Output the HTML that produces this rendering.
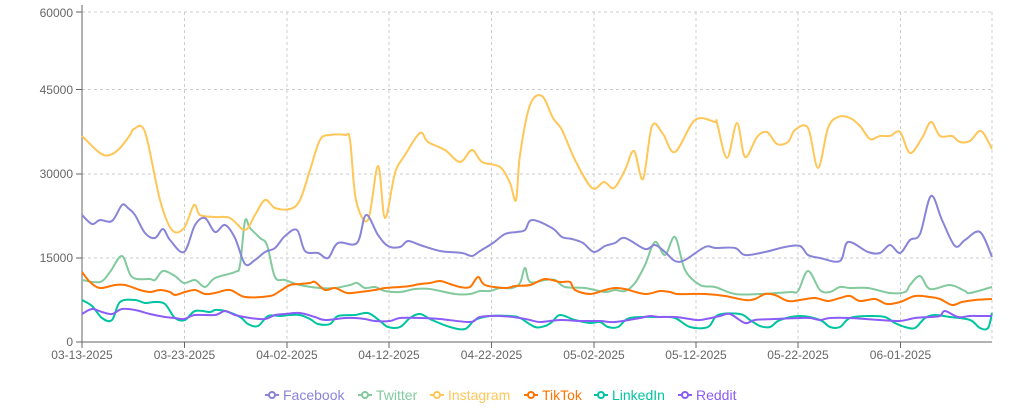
<!DOCTYPE html>
<html><head><meta charset="utf-8"><style>
body{margin:0;background:#fff;width:1024px;height:410px;overflow:hidden;font-family:"Liberation Sans",sans-serif}
</style></head><body>
<svg id="s" width="1024" height="410" xmlns="http://www.w3.org/2000/svg" font-family="Liberation Sans, sans-serif">
<g stroke="#ccc" stroke-dasharray="3 3" fill="none">
<line x1="82" y1="12" x2="992" y2="12"/><line x1="82" y1="89.5" x2="992" y2="89.5"/><line x1="82" y1="174" x2="992" y2="174"/><line x1="82" y1="258" x2="992" y2="258"/>
<line x1="184.5" y1="12" x2="184.5" y2="342"/><line x1="287" y1="12" x2="287" y2="342"/><line x1="389" y1="12" x2="389" y2="342"/><line x1="491.5" y1="12" x2="491.5" y2="342"/><line x1="594" y1="12" x2="594" y2="342"/><line x1="696" y1="12" x2="696" y2="342"/><line x1="798" y1="12" x2="798" y2="342"/><line x1="900.5" y1="12" x2="900.5" y2="342"/><line x1="992" y1="12" x2="992" y2="342"/>
</g>
<g stroke="#666" fill="none"><line x1="82" y1="5" x2="82" y2="342"/><line x1="82" y1="342" x2="992" y2="342"/>
<line x1="76" y1="12" x2="82" y2="12"/><line x1="76" y1="89.5" x2="82" y2="89.5"/><line x1="76" y1="174" x2="82" y2="174"/><line x1="76" y1="258" x2="82" y2="258"/><line x1="76" y1="342" x2="82" y2="342"/>
<line x1="82" y1="342" x2="82" y2="348"/><line x1="184.5" y1="342" x2="184.5" y2="348"/><line x1="287" y1="342" x2="287" y2="348"/><line x1="389" y1="342" x2="389" y2="348"/><line x1="491.5" y1="342" x2="491.5" y2="348"/><line x1="594" y1="342" x2="594" y2="348"/><line x1="696" y1="342" x2="696" y2="348"/><line x1="798" y1="342" x2="798" y2="348"/><line x1="900.5" y1="342" x2="900.5" y2="348"/></g>
<g fill="#666" font-size="12" text-anchor="end">
<text x="73" y="17">60000</text><text x="73" y="94">45000</text><text x="73" y="178">30000</text><text x="73" y="262">15000</text><text x="73" y="346">0</text></g>
<g fill="#666" font-size="12" text-anchor="middle">
<text x="82" y="359">03-13-2025</text><text x="184.5" y="359">03-23-2025</text><text x="287" y="359">04-02-2025</text><text x="389" y="359">04-12-2025</text><text x="491.5" y="359">04-22-2025</text><text x="594" y="359">05-02-2025</text><text x="696" y="359">05-12-2025</text><text x="798" y="359">05-22-2025</text><text x="900.5" y="359">06-01-2025</text></g>
<g id="lines" fill="none" stroke-width="2"></g>
<g font-size="14">
<g stroke-width="2" fill="#fff"><line x1="265" y1="395" x2="279" y2="395" stroke="#8884d8"/><circle cx="272" cy="395" r="3" stroke="#8884d8"/></g><text x="283" y="400" fill="#8884d8">Facebook</text>
<g stroke-width="2" fill="#fff"><line x1="358" y1="395" x2="372" y2="395" stroke="#82ca9d"/><circle cx="365" cy="395" r="3" stroke="#82ca9d"/></g><text x="376" y="400" fill="#82ca9d">Twitter</text>
<g stroke-width="2" fill="#fff"><line x1="430" y1="395" x2="444" y2="395" stroke="#ffc658"/><circle cx="437" cy="395" r="3" stroke="#ffc658"/></g><text x="448" y="400" fill="#ffc658">Instagram</text>
<g stroke-width="2" fill="#fff"><line x1="524" y1="395" x2="538" y2="395" stroke="#ff7300"/><circle cx="531" cy="395" r="3" stroke="#ff7300"/></g><text x="542" y="400" fill="#ff7300">TikTok</text>
<g stroke-width="2" fill="#fff"><line x1="594" y1="395" x2="608" y2="395" stroke="#00c49f"/><circle cx="601" cy="395" r="3" stroke="#00c49f"/></g><text x="612" y="400" fill="#00c49f">LinkedIn</text>
<g stroke-width="2" fill="#fff"><line x1="678" y1="395" x2="692" y2="395" stroke="#8b5cf6"/><circle cx="685" cy="395" r="3" stroke="#8b5cf6"/></g><text x="696" y="400" fill="#8b5cf6">Reddit</text>
</g>
</svg>
<script>
var D={
"#82ca9d":[82,280,100,282,110,272,122,256,132,277,150,279,155,280,163,271,175,276,184,283,195,280,205,287,215,278,235,272,240,265,245,221,250,228,260,238,267,245,275,277,285,280,300,285,320,288,335,288,350,285,357,283,365,288,375,287,385,291,400,292,415,289,430,289,455,294,470,294,480,291,490,291,500,288,512,288,520,283,525,268,530,282,545,280,555,280,565,287,585,288,605,292,615,290,625,291,635,283,645,265,655,242,665,255,675,237,685,270,700,285,715,287,735,294,760,294,790,292,798,291,808,271,820,290,830,292,840,287,850,288,868,288,890,293,905,292,910,285,920,276,930,289,950,285,965,291,970,293,992,287],
"#ffc658":[82,136,100,153,110,155,120,148,130,135,134,129,145,132,160,200,172,230,184,228,194,205,200,215,215,217,230,218,245,230,255,215,265,200,275,208,290,209,300,200,310,170,320,140,330,135,345,135,350,140,356,200,368,220,378,166,385,218,395,173,405,155,420,133,428,142,445,150,460,162,472,150,482,162,500,167,510,183,516,200,520,155,530,105,542,96,553,118,562,130,575,160,592,188,604,182,614,188,625,170,634,151,643,179,652,126,663,134,675,152,695,120,715,122,717,123,727,158,737,123,745,157,757,137,767,132,777,144,788,142,795,130,808,128,818,168,828,128,838,117,850,118,860,126,870,139,880,136,890,136,900,132,910,153,922,138,931,122,940,136,952,136,960,142,970,141,981,131,992,149],
"#8884d8":[82,215,92,224,100,220,112,221,122,205,128,208,135,215,145,233,155,238,163,229,170,240,184,252,195,225,205,218,215,232,225,225,235,238,245,264,255,260,265,252,275,248,285,236,297,230,305,251,318,253,328,258,338,243,357,243,366,215,378,235,388,246,400,247,408,241,420,245,440,251,462,253,472,256,480,251,493,243,505,234,517,232,525,230,532,220,552,228,562,237,572,239,583,243,594,252,605,246,615,243,625,238,645,249,655,245,665,252,675,261,685,260,705,247,716,248,735,248,745,255,765,252,785,247,800,246,808,255,820,258,840,261,848,242,868,252,880,253,890,245,900,253,910,240,920,234,931,196,942,220,955,246,965,240,980,232,992,257],
"#ff7300":[82,272,90,282,100,288,115,285,125,285,140,290,150,292,160,290,170,292,175,295,185,292,195,290,205,294,215,293,230,290,245,297,270,296,280,291,290,285,300,284,310,283,315,282,325,290,335,288,347,293,360,292,375,290,385,288,400,287,410,286,420,284,430,283,440,281,450,284,460,287,470,287,478,277,485,285,505,288,515,286,530,285,545,279,560,282,570,282,575,290,590,294,605,290,615,288,625,289,645,294,660,291,670,292,677,294,690,294,705,294,725,296,745,300,755,299,765,294,775,295,788,301,800,300,815,298,828,301,840,298,850,296,860,301,875,299,887,304,900,302,915,296,930,297,940,299,952,305,962,302,975,300,992,299],
"#00c49f":[82,300,92,306,102,318,112,320,120,302,135,300,145,303,155,302,165,304,175,318,185,320,195,311,210,312,215,310,225,311,240,317,248,324,258,326,268,316,280,316,290,315,300,315,310,319,318,324,330,324,338,316,355,315,368,313,380,321,388,327,400,327,410,318,420,314,432,320,450,327,465,329,475,320,490,316,510,316,520,318,535,327,545,326,552,322,560,315,575,320,590,323,600,322,608,327,618,327,630,318,660,317,675,318,690,327,708,327,718,315,740,314,750,320,760,326,770,327,780,320,800,316,820,320,830,327,840,327,850,318,870,316,885,317,895,323,905,327,915,328,925,318,935,315,950,317,970,320,980,328,988,328,992,313],
"#8b5cf6":[82,314,92,309,102,312,112,314,122,309,135,310,150,314,165,317,175,318,184,319,195,315,215,315,225,311,235,315,250,318,265,319,275,315,285,314,300,313,315,317,325,320,345,318,355,318,365,319,375,321,390,321,400,318,420,318,440,319,470,322,480,317,500,316,520,318,530,320,540,322,560,320,580,321,600,321,615,322,640,318,650,316,660,317,675,317,690,319,700,320,720,316,730,314,745,323,755,320,775,319,800,318,810,318,820,320,830,318,850,318,880,320,900,321,915,318,930,317,940,316,945,311,958,317,970,316,980,316,992,316]};
var g=document.getElementById("lines"),h="";
for(var c in D){var a=D[c],p=[];for(var i=0;i<a.length;i+=2)p.push([a[i],a[i+1]]);
var d="M"+p[0][0]+","+p[0][1];
for(i=0;i<p.length-1;i++){var p0=p[i>0?i-1:i],p1=p[i],p2=p[i+1],p3=p[i+2<p.length?i+2:i+1];
var t=6;d+=" C"+(p1[0]+(p2[0]-p0[0])/t)+","+(p1[1]+(p2[1]-p0[1])/t)+" "+(p2[0]-(p3[0]-p1[0])/t)+","+(p2[1]-(p3[1]-p1[1])/t)+" "+p2[0]+","+p2[1];}
h+='<path d="'+d+'" stroke="'+c+'"/>';}
g.innerHTML=h;
</script>
</body></html>
